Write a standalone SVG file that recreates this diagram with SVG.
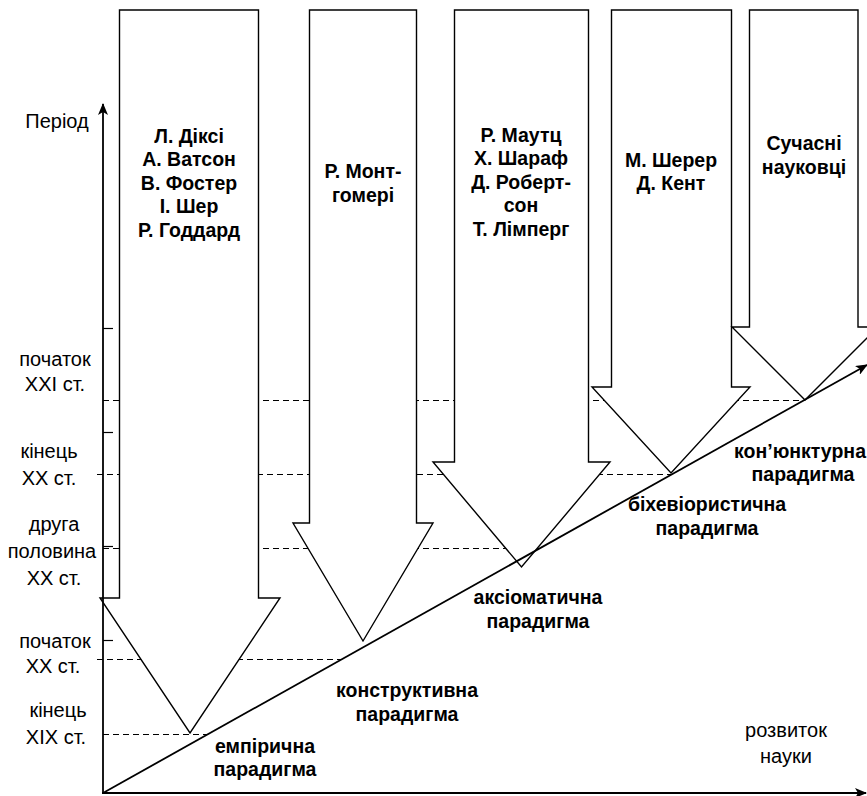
<svg xmlns="http://www.w3.org/2000/svg" width="867" height="796" viewBox="0 0 867 796">
<style>
.arrow{fill:#fff;stroke:#000;stroke-width:1.4;stroke-linejoin:miter}
.dash{stroke:#000;stroke-width:1.1;stroke-dasharray:6 4;fill:none}
.tick{stroke:#000;stroke-width:1.2}
.axis{stroke:#000;stroke-width:1.8;fill:none}
.b{font-family:"Liberation Sans",Arial,sans-serif;font-weight:bold;font-size:19.5px;text-anchor:middle;fill:#000}
.r{font-family:"Liberation Sans",Arial,sans-serif;font-size:20px;text-anchor:middle;fill:#000}
</style>
<defs>
<marker id="ah" viewBox="0 0 12 10" refX="11" refY="5" markerWidth="12" markerHeight="10" markerUnits="userSpaceOnUse" orient="auto">
<path d="M0,0 L12,5 L0,10 L3,5 z" fill="#000"/>
</marker>
</defs>
<g id="gridlines">
<line class="dash" x1="103" y1="400.5" x2="805" y2="400.5"/>
<line class="dash" x1="97" y1="474.5" x2="671" y2="474.5"/>
<line class="dash" x1="103" y1="548.5" x2="540" y2="548.5"/>
<line class="dash" x1="97" y1="659.5" x2="342" y2="659.5"/>
<line class="dash" x1="103" y1="734.5" x2="208" y2="734.5"/>
<line class="tick" x1="103" y1="328.5" x2="113" y2="328.5"/>
<line class="tick" x1="103" y1="432.5" x2="113" y2="432.5"/>
<line class="tick" x1="103" y1="546.5" x2="113" y2="546.5"/>
<line class="tick" x1="103" y1="640.5" x2="113" y2="640.5"/>
</g>
<g id="arrow1">
<polygon class="arrow" points="119.5,10 258.5,10 258.5,598 280,598 190,733 100,598 119.5,598"/>
<text class="b" x="189" y="142.5">Л. Діксі</text>
<text class="b" x="189" y="166">А. Ватсон</text>
<text class="b" x="189" y="189.5">В. Фостер</text>
<text class="b" x="189" y="213">І. Шер</text>
<text class="b" x="189" y="236.5">Р. Годдард</text>
</g>
<g id="arrow2">
<polygon class="arrow" points="309.5,10 416.5,10 416.5,523 433,523 363,641 293,523 309.5,523"/>
<text class="b" x="363" y="178">Р. Монт-</text>
<text class="b" x="363" y="201.5">гомері</text>
</g>
<g id="arrow3">
<polygon class="arrow" points="454.5,10 588.5,10 588.5,462 610,462 521.5,567 433,462 454.5,462"/>
<text class="b" x="521" y="141.5">Р. Маутц</text>
<text class="b" x="521" y="165">Х. Шараф</text>
<text class="b" x="521" y="188.5">Д. Роберт-</text>
<text class="b" x="521" y="212">сон</text>
<text class="b" x="521" y="235.5">Т. Лімперг</text>
</g>
<g id="arrow4">
<polygon class="arrow" points="611.5,10 731.5,10 731.5,387 750,387 671,473 592,387 611.5,387"/>
<text class="b" x="671" y="166.5">М. Шерер</text>
<text class="b" x="671" y="190">Д. Кент</text>
</g>
<g id="arrow5">
<polygon class="arrow" points="749.5,10 858,10 858,327 878,327 805,400 732,327 749.5,327"/>
<text class="b" x="804" y="150">Сучасні</text>
<text class="b" x="804" y="173.5">науковці</text>
</g>
<g id="connectors">
<line class="axis" x1="103" y1="794" x2="103" y2="104" marker-end="url(#ah)"/>
<line class="axis" x1="102" y1="793" x2="866" y2="793" stroke-width="2.2" marker-end="url(#ah)"/>
<line class="axis" x1="103" y1="793" x2="867" y2="365" stroke-width="2.2" marker-end="url(#ah)"/>
</g>
<g id="axis-labels">
<text class="r" x="57" y="128">Період</text>
<text class="r" x="55" y="366">початок</text>
<text class="r" x="55" y="391">XXI ст.</text>
<text class="r" x="49" y="458">кінець</text>
<text class="r" x="49" y="485">XX ст.</text>
<text class="r" x="54" y="531">друга</text>
<text class="r" x="52" y="558">половина</text>
<text class="r" x="54" y="585">XX ст.</text>
<text class="r" x="55" y="648">початок</text>
<text class="r" x="53" y="673">XX ст.</text>
<text class="r" x="58" y="717">кінець</text>
<text class="r" x="56" y="744">XIX ст.</text>
<text class="r" x="786" y="737">розвиток</text>
<text class="r" x="786" y="763">науки</text>
</g>
<g id="paradigms">
<text class="b" x="265" y="753">емпірична</text>
<text class="b" x="265" y="776">парадигма</text>
<text class="b" x="407" y="697">конструктивна</text>
<text class="b" x="407" y="721">парадигма</text>
<text class="b" x="538" y="604">аксіоматична</text>
<text class="b" x="538" y="628">парадигма</text>
<text class="b" x="707" y="511">біхевіористична</text>
<text class="b" x="707" y="535">парадигма</text>
<text class="b" x="866" y="458" style="text-anchor:end">кон’юнктурна</text>
<text class="b" x="803" y="481">парадигма</text>
</g>
</svg>
